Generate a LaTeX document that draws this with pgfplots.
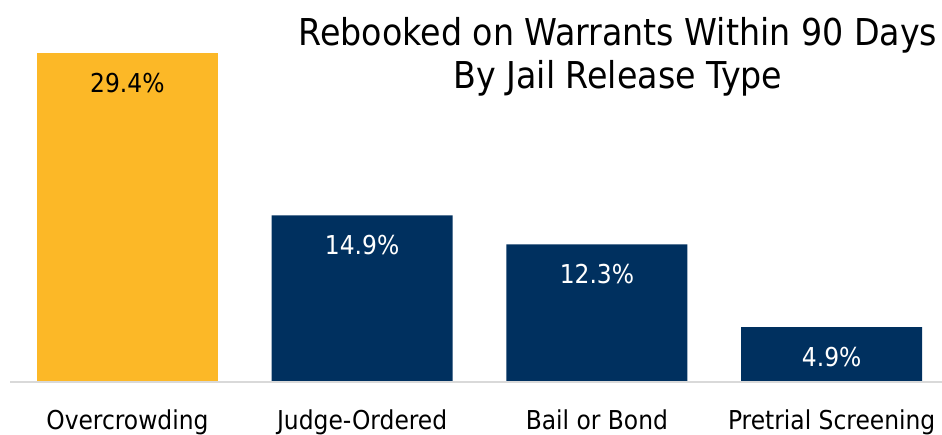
\documentclass[border=0pt]{standalone}
\usepackage{fontspec}
\setmainfont{DejaVu Sans Condensed}
\usepackage{pgfplots}
\pgfplotsset{compat=1.18}
\definecolor{gold}{HTML}{FCB827}
\definecolor{navy}{HTML}{00305F}
\definecolor{axisgray}{HTML}{D9D9D9}
\begin{document}
\begin{tikzpicture}
	\path[use as bounding box] (-10pt,-52pt) rectangle (932pt,382pt);
	\begin{axis}[
			at={(0pt,0pt)}, anchor=south west,
			scale only axis,
			width=932pt, height=382pt,
			xmin=-0.5, xmax=3.47,
			ymin=0, ymax=34.14,
			axis lines=none,
			ybar, bar width=181pt, bar shift=0pt,
			xtick=\empty, ytick=\empty,
			/pgf/number format/assume math mode=true,
			nodes near coords={\pgfmathprintnumber[fixed,precision=1,fixed zerofill]{\pgfplotspointmeta}\%},
			every node near coord/.append style={anchor=base, yshift=-39pt, font=\fontsize{26}{30}\selectfont},
			clip=false
		]
		\addplot[fill=gold, draw=none, nodes near coords style={text=black}] coordinates {(0,29.4)};
		\addplot[fill=navy, draw=none, nodes near coords style={text=white}] coordinates {(1,14.9)(2,12.3)(3,4.9)};
		\draw[axisgray, line width=1.5pt] (axis cs:-0.5,0) -- (axis cs:3.47,0);
		\foreach \x/\lab in {0/Overcrowding,1/Judge-Ordered,2/Bail or Bond,3/Pretrial Screening}{
			\edef\tmp{\noexpand\node[anchor=base, font=\noexpand\fontsize{26}{30}\noexpand\selectfont] at (axis cs:\x,0) [yshift=-47pt] {\lab};}\tmp
		}
		\node[font=\fontsize{37}{43}\selectfont, align=center] at (axis cs:2.09,0) [yshift=325pt] {Rebooked on Warrants Within 90 Days\\By Jail Release Type};
	\end{axis}
\end{tikzpicture}
\end{document}
